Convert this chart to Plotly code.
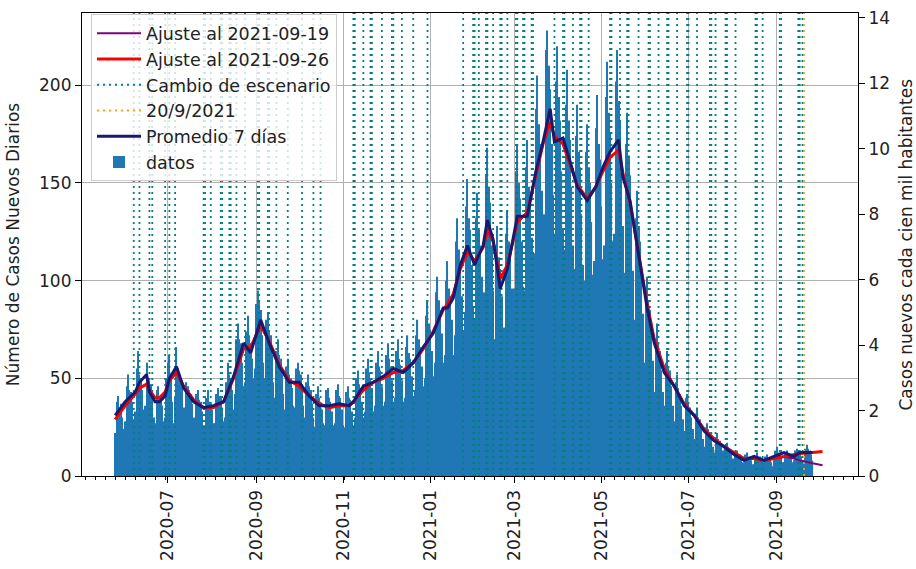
import plotly.graph_objects as go
import pandas as pd

# ---------------- data ----------------
first_day = "2020-05-25"
daily_cases = [
    22, 38, 41, 35, 37, 30, 24,
    28, 46, 52, 44, 43, 38, 29,
    33, 55, 64, 52, 50, 44, 34,
    36, 58, 50, 49, 47, 41, 30,
    27, 44, 46, 41, 40, 36, 28,
    30, 50, 58, 62, 50, 38, 27,
    40, 66, 55, 52, 48, 45, 35,
    29, 48, 46, 44, 42, 37, 30,
    25, 42, 44, 39, 38, 33, 26,
    24, 40, 44, 38, 37, 34, 27,
    27, 42, 45, 41, 40, 35, 28,
    30, 48, 58, 52, 50, 44, 34,
    42, 70, 78, 70, 68, 58, 46,
    48, 74, 82, 72, 68, 60, 50,
    55, 88, 95, 90, 85, 72, 58,
    50, 80, 84, 74, 72, 62, 48,
    40, 64, 70, 62, 60, 52, 42,
    34, 56, 60, 52, 50, 45, 36,
    35, 55, 58, 54, 52, 44, 36,
    30, 48, 52, 46, 44, 37, 30,
    25, 42, 46, 40, 38, 34, 27,
    26, 44, 45, 40, 38, 33, 26,
    27, 44, 47, 41, 40, 34, 26,
    25, 43, 46, 40, 39, 33, 26,
    30, 50, 54, 47, 45, 38, 30,
    33, 55, 60, 53, 50, 45, 33,
    36, 58, 64, 56, 54, 46, 36,
    38, 62, 68, 60, 56, 49, 38,
    40, 64, 70, 60, 57, 49, 38,
    40, 66, 72, 63, 60, 51, 40,
    44, 72, 80, 70, 66, 56, 46,
    50, 82, 90, 78, 75, 64, 51,
    58, 94, 102, 90, 85, 73, 58,
    62, 100, 110, 96, 92, 80, 62,
    72, 120, 132, 116, 108, 92, 74,
    84, 138, 152, 132, 126, 108, 86,
    80, 132, 145, 126, 118, 102, 81,
    94, 154, 168, 148, 140, 118, 95,
    70, 118, 128, 112, 106, 92, 74,
    76, 124, 136, 120, 112, 96, 78,
    96, 156, 170, 150, 142, 120, 97,
    95, 158, 172, 148, 140, 122, 96,
    114, 188, 205, 180, 170, 146, 117,
    134, 218, 228, 210, 198, 170, 144,
    124, 202, 220, 194, 182, 156, 126,
    116, 190, 208, 182, 172, 148, 118,
    106, 174, 190, 166, 158, 134, 108,
    100, 166, 180, 158, 150, 130, 103,
    110, 178, 195, 170, 162, 138, 111,
    118, 194, 212, 186, 176, 150, 120,
    124, 202, 218, 192, 182, 158, 128,
    104, 170, 186, 164, 154, 132, 105,
    80, 132, 146, 128, 120, 102, 83,
    58, 94, 102, 90, 85, 72, 59,
    43, 70, 78, 68, 64, 54, 43,
    36, 58, 64, 56, 54, 46, 36,
    28, 48, 52, 45, 42, 36, 29,
    23, 40, 42, 37, 35, 30, 24,
    19, 32, 35, 30, 29, 25, 19,
    15, 25, 27, 24, 22, 19, 15,
    12, 20, 22, 19, 18, 15, 13,
    9, 15, 17, 15, 14, 12, 9,
    7, 12, 13, 11, 11, 9, 7,
    6, 11, 12, 10, 10, 8, 6,
    6, 10, 12, 10, 10, 8, 7,
    5, 10, 11, 9, 9, 7, 5,
    8, 13, 15, 12, 12, 10, 7,
    7, 12, 13, 11, 11, 9, 7,
    8, 13, 14, 12, 12, 10, 8,
    8, 14, 16, 14, 13, 11, 8,
]

# 7-day average and fits, read at these dates
curve_dates = [
    "2020-05-25", "2020-06-01", "2020-06-08", "2020-06-11", "2020-06-16", "2020-06-18",
    "2020-06-22", "2020-06-25", "2020-06-29", "2020-07-02", "2020-07-07", "2020-07-12",
    "2020-07-19", "2020-07-26", "2020-08-02", "2020-08-09", "2020-08-16", "2020-08-23",
    "2020-08-28", "2020-09-04", "2020-09-10", "2020-09-17", "2020-09-24", "2020-10-01",
    "2020-10-08", "2020-10-15", "2020-10-22", "2020-10-29", "2020-11-05", "2020-11-08",
    "2020-11-15", "2020-11-22", "2020-11-29", "2020-12-06", "2020-12-13", "2020-12-20",
    "2020-12-27", "2021-01-03", "2021-01-10", "2021-01-13", "2021-01-17", "2021-01-22",
    "2021-01-27", "2021-02-01", "2021-02-07", "2021-02-10", "2021-02-14", "2021-02-19",
    "2021-02-24", "2021-03-03", "2021-03-10", "2021-03-16", "2021-03-21", "2021-03-26",
    "2021-03-29", "2021-04-04", "2021-04-09", "2021-04-14", "2021-04-21", "2021-04-27",
    "2021-05-02", "2021-05-07", "2021-05-13", "2021-05-16", "2021-05-21", "2021-05-27",
    "2021-06-02", "2021-06-07", "2021-06-14", "2021-06-21", "2021-06-28", "2021-07-05",
    "2021-07-12", "2021-07-19", "2021-07-26", "2021-08-02", "2021-08-09", "2021-08-16",
    "2021-08-23", "2021-08-30", "2021-09-06", "2021-09-13", "2021-09-17", "2021-09-26",
]
avg_values = [
    31, 38, 43, 48, 52, 43,
    38, 38, 41, 50, 56, 45,
    38, 35, 36, 38, 51, 68,
    63, 80, 68, 56, 48, 48,
    41, 36, 36, 37, 36, 38,
    46, 48, 51, 55, 53, 58,
    66, 73, 86, 86, 91, 108,
    118, 108, 118, 131, 121, 96,
    106, 133, 133, 156, 171, 188,
    171, 173, 161, 148, 141, 148,
    158, 166, 172, 153, 141, 113,
    86, 68, 53, 46, 36, 31,
    23, 18, 15, 11, 8, 10,
    8, 10, 12, 10, 12, 12,
]
fit26_values = [
    29, 36, 42, 45, 47, 44,
    40, 40, 43, 49, 53, 46,
    39, 35, 35, 38, 50, 65,
    66, 77, 69, 57, 49, 46,
    41, 37, 35, 36, 36, 38,
    44, 48, 50, 53, 54, 58,
    65, 74, 85, 88, 93, 106,
    115, 110, 117, 126, 120, 101,
    108, 130, 135, 155, 170, 181,
    174, 170, 160, 149, 142, 148,
    156, 163, 167, 155, 140, 114,
    88, 70, 55, 46, 37, 31,
    24, 19, 15, 12, 9, 9,
    8, 9, 10, 11, 11.5, 12,
]
fit_end_date = "2021-10-03"
fit26_end = 12.5
fit19_tail = [9, 8, 6.5, 5.5]   # 2021-09-13, 2021-09-17, 2021-09-26, 2021-10-03

scenario_dates = [
    "2020-06-07", "2020-06-11", "2020-06-18", "2020-06-20", "2020-06-29", "2020-07-02",
    "2020-07-06", "2020-07-26", "2020-07-27", "2020-07-31", "2020-08-07", "2020-08-08",
    "2020-08-13", "2020-08-14", "2020-08-18", "2020-08-24", "2020-09-02", "2020-09-03",
    "2020-09-09", "2020-09-10", "2020-09-15", "2020-09-23", "2020-10-03", "2020-10-11",
    "2020-10-16", "2020-11-08", "2020-11-09", "2020-11-15", "2020-11-20", "2020-11-21",
    "2020-11-28", "2020-12-05", "2020-12-06", "2020-12-12", "2020-12-20", "2020-12-30",
    "2021-01-24", "2021-01-31", "2021-02-01", "2021-02-04", "2021-02-09", "2021-02-10",
    "2021-02-14", "2021-02-19", "2021-02-20", "2021-02-24", "2021-03-02", "2021-03-03",
    "2021-03-07", "2021-03-08", "2021-03-13", "2021-03-14", "2021-03-29", "2021-04-04",
    "2021-04-05", "2021-04-11", "2021-04-16", "2021-04-17", "2021-04-22", "2021-05-07",
    "2021-05-08", "2021-05-14", "2021-05-19", "2021-05-20", "2021-05-27", "2021-06-03",
    "2021-06-04", "2021-06-10", "2021-06-16", "2021-06-17", "2021-06-23", "2021-06-30",
    "2021-07-01", "2021-07-07", "2021-07-16", "2021-07-17", "2021-07-20", "2021-07-27",
    "2021-07-28", "2021-08-03", "2021-08-17", "2021-08-18", "2021-08-22", "2021-09-03",
    "2021-09-04", "2021-09-16", "2021-09-17", "2021-09-19",
]
marker_date = "2021-09-20"

left_range = [0, 237]
right_range = [0, 14.15]
left_ticks = [0, 50, 100, 150, 200]
right_ticks = [0, 2, 4, 6, 8, 10, 12, 14]
x_range = ["2020-05-01 17:00", "2021-10-27 21:00"]

# ---------------- figure ----------------
FONT = "DejaVu Sans"
dates = pd.date_range(first_day, periods=len(daily_cases), freq="D")

fit26_dates = curve_dates + [fit_end_date]
fit26_all = fit26_values + [fit26_end]
fit19_dates = curve_dates[:-3] + ["2021-09-13", "2021-09-17", "2021-09-26", fit_end_date]
fit19_all = fit26_values[:-3] + fit19_tail

fig = go.Figure()

fig.add_trace(go.Bar(x=dates, y=daily_cases, name="datos",
                     marker=dict(color="#1f77b4", line=dict(width=0)),
                     legendrank=6))

vx, vy = [], []
for d in scenario_dates:
    vx += [d, d, None]
    vy += [left_range[0], left_range[1], None]
fig.add_trace(go.Scatter(x=vx, y=vy, mode="lines", name="Cambio de escenario",
                         line=dict(color="#008080", width=1.8, dash="2px,4px"),
                         legendrank=3))
fig.add_trace(go.Scatter(x=[marker_date, marker_date], y=left_range, mode="lines",
                         name="20/9/2021",
                         line=dict(color="#ffa500", width=1.8, dash="2px,4px"),
                         legendrank=4))
fig.add_trace(go.Scatter(x=fit19_dates, y=fit19_all, mode="lines",
                         name="Ajuste al 2021-09-19",
                         line=dict(color="#800080", width=2), legendrank=1))
fig.add_trace(go.Scatter(x=fit26_dates, y=fit26_all, mode="lines",
                         name="Ajuste al 2021-09-26",
                         line=dict(color="#ff0000", width=3), legendrank=2))
fig.add_trace(go.Scatter(x=curve_dates, y=avg_values, mode="lines",
                         name="Promedio 7 días",
                         line=dict(color="#191970", width=3), legendrank=5))
# right axis carrier (invisible)
fig.add_trace(go.Scatter(x=dates[:1], y=[right_range[0]], yaxis="y2", mode="markers",
                         marker=dict(opacity=0), showlegend=False, hoverinfo="skip"))

axis_common = dict(showline=True, linecolor="black", linewidth=1.2,
                   ticks="outside", ticklen=6, tickwidth=1.2, tickcolor="black",
                   tickfont=dict(family=FONT, size=17, color="#222"), zeroline=False)

fig.update_layout(
    width=916, height=569,
    margin=dict(l=82, r=58, t=8, b=87),
    plot_bgcolor="white", paper_bgcolor="white",
    bargap=0.2,
    font=dict(family=FONT, size=17, color="#222"),
    showlegend=True,
    legend=dict(x=0.0116, y=0.997, xanchor="left", yanchor="top",
                bgcolor="rgba(255,255,255,0.8)", bordercolor="#cccccc", borderwidth=1,
                font=dict(family=FONT, size=17.5, color="#222"),
                itemwidth=44, traceorder="normal"),
    xaxis=dict(type="date", range=x_range, mirror=True,
               tickvals=["2020-07-01", "2020-09-01", "2020-11-01", "2021-01-01",
                         "2021-03-01", "2021-05-01", "2021-07-01", "2021-09-01"],
               tickformat="%Y-%m", tickangle=-90,
               showgrid=True, gridcolor="#b0b0b0", gridwidth=1,
               minor=dict(ticks="outside", ticklen=3, tickwidth=1, tickcolor="black",
                          dtick=7 * 86400000, tick0="2020-05-25", showgrid=False),
               **axis_common),
    yaxis=dict(range=left_range, tickvals=left_ticks, mirror=False,
               title=dict(text="Número de Casos Nuevos Diarios", font=dict(family=FONT, size=17, color="#222")),
               showgrid=True, gridcolor="#b0b0b0", gridwidth=1,
               **axis_common),
    yaxis2=dict(range=right_range, tickvals=right_ticks, overlaying="y", side="right",
                showgrid=False, **axis_common),
    annotations=[dict(text="Casos nuevos cada cien mil habitantes", textangle=-90,
                      xref="paper", yref="paper", x=(905 - 82) / 776, y=0.5,
                      xanchor="center", yanchor="middle", showarrow=False,
                      font=dict(family=FONT, size=17, color="#222"))],
)

fig.write_html("out.html", config={"displayModeBar": False},
               post_script="document.body.style.margin='0px';")
